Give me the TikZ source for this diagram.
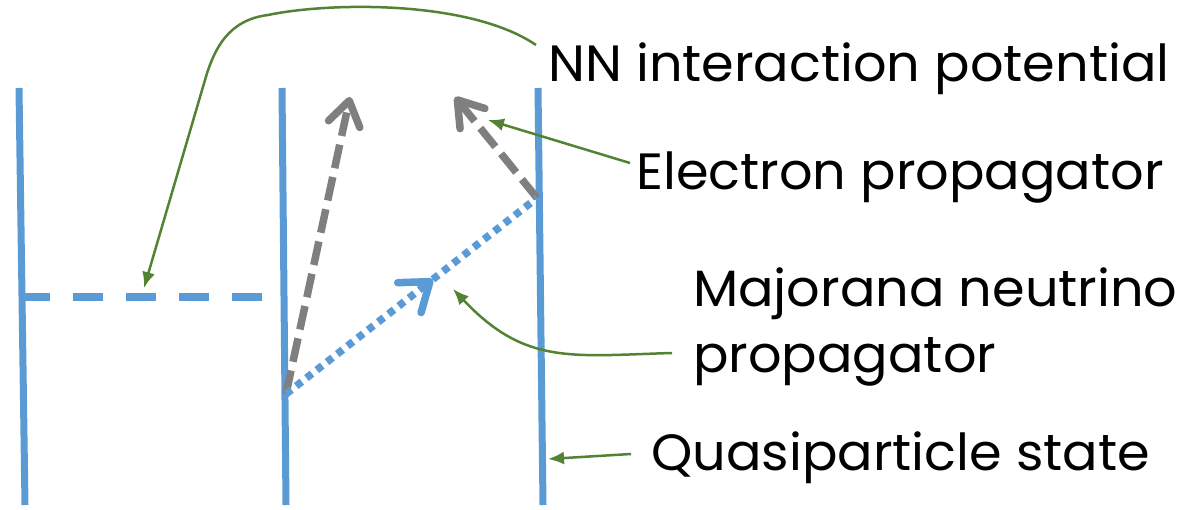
\documentclass[tikz,border=0pt]{standalone}
\usepackage{fontspec}
\newfontfamily\notefont[FakeStretch=1.03]{Poppins}
\usetikzlibrary{arrows.meta,calc}
\definecolor{qpblue}{HTML}{5B9BD5}
\definecolor{propgray}{HTML}{7F7F7F}
\definecolor{notegreen}{HTML}{548235}
\tikzset{
    qpline/.style={draw=qpblue,line width=7pt},
    nnline/.style={draw=qpblue,line width=8pt,dash pattern=on 30pt off 23pt},
    elprop/.style={draw=propgray,line width=7.5pt,dash pattern=on 24pt off 9pt,
        -{Straight Barb[length=24pt,width=32pt,round]}},
    nuprop/.style={draw=qpblue,line width=7.5pt,dash pattern=on 7pt off 6pt},
    nuhead/.style={-{Straight Barb[length=26pt,width=38pt,round]}},
    pointer/.style={draw=notegreen,line width=2.5pt,-{Latex[length=16pt,width=13pt]}},
    notetext/.style={font=\notefont\fontsize{51}{66}\selectfont,inner sep=0pt,align=left},
}

\begin{document}
\begin{tikzpicture}[x=1pt,y=-1pt]
    \useasboundingbox (0,0) rectangle (1188,510);

    % quasiparticle lines
    \coordinate (qa1) at (19,88);   \coordinate (qa2) at (25,505);
    \coordinate (qb1) at (282,88);  \coordinate (qb2) at (286,505);
    \coordinate (qc1) at (538,88);  \coordinate (qc2) at (543,505);
    \draw[qpline] (qa1) -- (qa2);
    \draw[qpline] (qb1) -- (qb2);
    \draw[qpline] (qc1) -- (qc2);

    % vertices and propagators
    \coordinate (nnl) at (20,297);
    \coordinate (nnr) at (266,297);
    \coordinate (vb) at (286,394);
    \coordinate (vc) at (537,198);
    \coordinate (vm) at ($(vb)!0.585!(vc)$);
    \coordinate (eb) at (350,97);
    \coordinate (ec) at (455,97);
    \draw[nnline] (nnl) -- (nnr);
    \draw[elprop] (vb) -- (eb);
    \draw[elprop] (vc) -- (ec);
    \draw[nuprop,nuhead] (vb) -- (vm);
    \draw[nuprop] (vm) -- (vc);

    % labels
    \node[notetext,anchor=base west] (nnlbl) at (548,82) {NN interaction potential};
    \node[notetext,anchor=base west] (ellbl) at (636,190) {Electron propagator};
    \node[notetext,anchor=base west] (nulbl) at (693,372) {Majorana neutrino\\propagator};
    \node[notetext,anchor=base west] (qplbl) at (651,470) {Quasiparticle state};

    % pointers
    \coordinate (nnfrom) at (536,45);
    \coordinate (nnto) at (144,288);
    \coordinate (elfrom) at (630,163);
    \coordinate (elto) at (488,120);
    \coordinate (nufrom) at (672,353);
    \coordinate (nuto) at (453,289);
    \coordinate (qpfrom) at (631,454);
    \coordinate (qpto) at (548,459);
    \draw[pointer] (nnfrom) .. controls (470,0) and (330,2) .. (268,15)
        .. controls (228,20) and (214,49) .. (205,80) -- (nnto);
    \draw[pointer] (elfrom) -- (elto);
    \draw[pointer] (nufrom) .. controls (570,356) and (525,365) .. (nuto);
    \draw[pointer] (qpfrom) -- (qpto);
\end{tikzpicture}
\end{document}
